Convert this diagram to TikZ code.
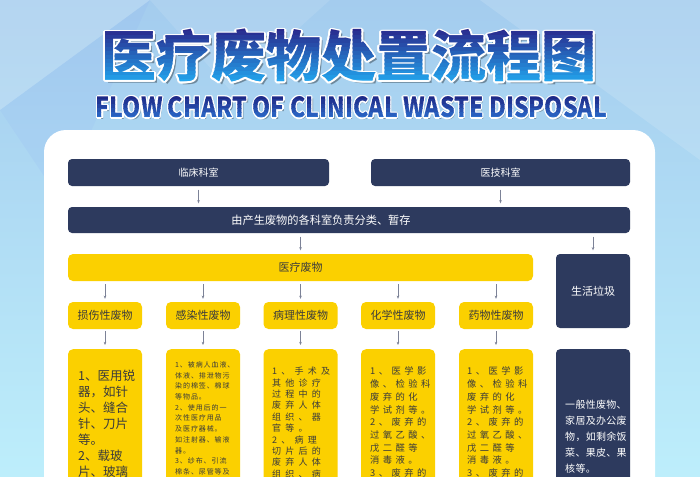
\documentclass[tikz,border=0pt]{standalone}
\usepackage{fontspec}
\setmainfont{Noto Sans CJK SC}
\usepackage{tikz}
\usetikzlibrary{calc,arrows.meta}

\definecolor{navy}{HTML}{2D3A5E}
\definecolor{gold}{HTML}{FBD000}
\definecolor{ink}{HTML}{3B3B3B}
\definecolor{arrowgray}{HTML}{7C8297}
\definecolor{bgtop}{HTML}{A4CCEE}
\definecolor{bgbot}{HTML}{BDEEFB}
\definecolor{tdark}{HTML}{29288C}
\definecolor{tlight}{HTML}{22A4EC}
\definecolor{sdark}{HTML}{1E2A88}
\definecolor{slight}{HTML}{2C6CCB}

\newcommand{\titletext}{\fontsize{55}{55}\selectfont\bfseries 医疗废物处置流程图}
\newcommand{\subtext}{\resizebox{511pt}{21pt}{\bfseries FLOW CHART OF CLINICAL WASTE DISPOSAL}}

\tikzset{
    darkbox/.style={fill=navy, rounded corners=4pt, text=white, inner sep=0pt,
        font=\fontsize{10}{12}\selectfont},
    goldbox/.style={fill=gold, rounded corners=5pt, text=ink, inner sep=0pt,
        font=\fontsize{11}{13}\selectfont},
    flow/.style={-{Stealth[length=3.2pt,width=2.6pt]}, draw=arrowgray, line width=0.8pt,
        shorten <=3.5pt, shorten >=3.5pt},
    detail/.style={anchor=north west, inner sep=0pt, align=left},
}

\begin{document}
\begin{tikzpicture}[x=1pt,y=-1pt]
        \useasboundingbox (0,0) rectangle (700,476);
        \clip (0,0) rectangle (700,476);

        % Background
        \shade[top color=bgtop, bottom color=bgbot] (0,0) rectangle (700,476);
        \fill[white, opacity=.18] (0,0) -- (150,0) -- (0,110) -- cycle;
        \fill[white, opacity=.10] (150,0) -- (330,0) -- (230,90) -- cycle;
        \fill[white, opacity=.14] (480,0) -- (700,0) -- (700,160) -- cycle;
        \fill[bgtop!70!blue, opacity=.07] (0,110) -- (150,0) -- (60,200) -- cycle;

        % Title
        \node[text=black, opacity=.35] (tshadow) at (351.5,59) {\titletext};
        \foreach \a in {0,30,...,330}
            \node[text=white] (tw\a) at ($(349,56)+(\a:1.8)$) {\titletext};
        \foreach \i in {0,...,13}{
            \pgfmathtruncatemacro\p{100*\i/13}
            \begin{scope}
                \clip (0,{28+4*\i}) rectangle (700,{32.5+4*\i});
                \node[text=tlight!\p!tdark] (title\i) at (349,56) {\titletext};
            \end{scope}
        }

        % Subtitle
        \node[text=black, opacity=.3] (sshadow) at (353,109.5) {\subtext};
        \foreach \a in {0,30,...,330}
            \node[text=white] (sw\a) at ($(351.5,107.5)+(\a:1.3)$) {\subtext};
        \foreach \i in {0,...,5}{
            \pgfmathtruncatemacro\p{100*\i/5}
            \begin{scope}
                \clip (0,{96+4*\i}) rectangle (700,{100.5+4*\i});
                \node[text=slight!\p!sdark] (sub\i) at (351.5,107.5) {\subtext};
            \end{scope}
        }

        % White panel
        \fill[white, rounded corners=22pt] (44,130) rectangle (655,540);

        % Departments
        \node[darkbox, minimum width=261pt, minimum height=27pt] (clinic) at (198.5,172.5) {临床科室};
        \node[darkbox, minimum width=259pt, minimum height=27pt] (tech) at (500.5,172.5) {医技科室};
        \node[darkbox, minimum width=562pt, minimum height=26pt] (sort) at (349,220) {};
        \node[text=white, font=\fontsize{11.2}{13}\selectfont] (sortlabel) at (321,220) {由产生废物的各科室负责分类、暂存};

        % Medical waste and domestic waste
        \node[goldbox, minimum width=465pt, minimum height=27pt] (med) at (300.5,267.5) {医疗废物};
        \node[darkbox, minimum width=74pt, minimum height=74pt, font=\fontsize{11}{13}\selectfont] (life) at (593,291) {生活垃圾};

        % Categories
        \node[goldbox, minimum width=74pt, minimum height=27pt] (c1) at (105,315.5) {损伤性废物};
        \node[goldbox, minimum width=74pt, minimum height=27pt] (c2) at (203,315.5) {感染性废物};
        \node[goldbox, minimum width=74pt, minimum height=27pt] (c3) at (300.5,315.5) {病理性废物};
        \node[goldbox, minimum width=74pt, minimum height=27pt] (c4) at (398,315.5) {化学性废物};
        \node[goldbox, minimum width=74pt, minimum height=27pt] (c5) at (496,315.5) {药物性废物};

        % Detail boxes
        \node[goldbox, minimum width=74pt, minimum height=170pt, anchor=north] (d1) at (105,349) {};
        \node[goldbox, minimum width=74pt, minimum height=170pt, anchor=north] (d2) at (203,349) {};
        \node[goldbox, minimum width=74pt, minimum height=170pt, anchor=north] (d3) at (300.5,349) {};
        \node[goldbox, minimum width=74pt, minimum height=170pt, anchor=north] (d4) at (398,349) {};
        \node[goldbox, minimum width=74pt, minimum height=170pt, anchor=north] (d5) at (496,349) {};
        \node[darkbox, minimum width=74pt, minimum height=170pt, anchor=north] (dl) at (593,349) {};

        % Detail texts
        \node[detail, text=ink, font=\fontsize{12.5}{16}\selectfont] (t1) at (78,369.5)
            {1、医用锐\\器，如针\\头、缝合\\针、刀片\\等。\\2、载玻\\片、玻璃};
        \node[detail, text=ink, font=\fontsize{7}{10.7}\selectfont\addfontfeatures{LetterSpace=13}] (t2) at (175,361.3)
            {1、被病人血液、\\体液、排泄物污\\染的棉签、棉球\\等物品。\\2、使用后的一\\次性医疗用品\\及医疗器械。\\如注射器、输液\\器。\\3、纱布、引流\\棉条、尿管等及};
        \node[detail, text=ink, font=\fontsize{9}{11.4}\selectfont\addfontfeatures{LetterSpace=47}] (t3) at (272,367)
            {1、手术及\\其他诊疗\\过程中的\\废弃人体\\组织、器\\官等。\\2、病理\\切片后的\\废弃人体\\组织、病};
        \node[detail, text=ink, font=\fontsize{9.3}{12.7}\selectfont\addfontfeatures{LetterSpace=37}] (t4) at (370,366.8)
            {1、医学影\\像、检验科\\废弃的化\\学试剂等。\\2、废弃的\\过氧乙酸、\\戊二醛等\\消毒液。\\3、废弃的};
        \node[detail, text=ink, font=\fontsize{9.3}{12.7}\selectfont\addfontfeatures{LetterSpace=37}] (t5) at (467,366.8)
            {1、医学影\\像、检验科\\废弃的化\\学试剂等。\\2、废弃的\\过氧乙酸、\\戊二醛等\\消毒液。\\3、废弃的};
        \node[detail, text=white, font=\fontsize{10}{16}\selectfont\addfontfeatures{LetterSpace=3}] (tl) at (565,399.5)
            {一般性废物、\\家居及办公废\\物，如剩余饭\\菜、果皮、果\\核等。};

        % Arrows
        \draw[flow] (clinic.south) -- (clinic.south |- sort.north);
        \draw[flow] (tech.south) -- (tech.south |- sort.north);
        \draw[flow] (sort.south -| med.north) -- (med.north);
        \draw[flow] (sort.south -| life.north) -- (life.north);
        \draw[flow, shorten <=3pt, shorten >=3pt] (med.south -| c1.north) -- (c1.north);
        \draw[flow, shorten <=3pt, shorten >=3pt] (med.south -| c2.north) -- (c2.north);
        \draw[flow, shorten <=3pt, shorten >=3pt] (med.south -| c3.north) -- (c3.north);
        \draw[flow, shorten <=3pt, shorten >=3pt] (med.south -| c4.north) -- (c4.north);
        \draw[flow, shorten <=3pt, shorten >=3pt] (med.south -| c5.north) -- (c5.north);
        \draw[flow, shorten <=2pt, shorten >=4pt] (c1) -- (d1);
        \draw[flow, shorten <=2pt, shorten >=4pt] (c2) -- (d2);
        \draw[flow, shorten <=2pt, shorten >=4pt] (c3) -- (d3);
        \draw[flow, shorten <=2pt, shorten >=4pt] (c4) -- (d4);
        \draw[flow, shorten <=2pt, shorten >=4pt] (c5) -- (d5);
    \end{tikzpicture}
\end{document}
